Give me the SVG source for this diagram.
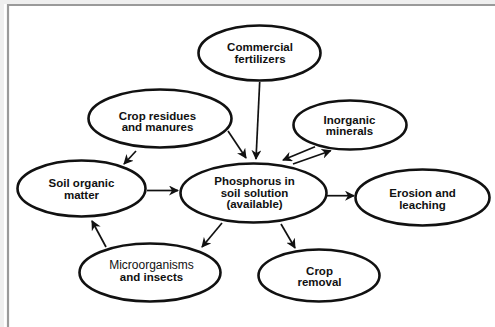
<svg xmlns="http://www.w3.org/2000/svg" width="495" height="327" viewBox="0 0 495 327">
<defs>
<marker id="ah" viewBox="0 0 10 10" refX="9" refY="5" markerWidth="10" markerHeight="10" markerUnits="userSpaceOnUse" orient="auto">
<path d="M0,0 L10,5 L0,10 L3,5 Z" fill="#111"/>
</marker>
<style>
.n ellipse{fill:#fff;stroke:#111;stroke-width:2.6}
.n text{font-family:"Liberation Sans",Arial,sans-serif;font-size:11.5px;font-weight:bold;fill:#111;text-anchor:middle}
.n text.r{font-weight:normal;font-size:12px}
#edges line{stroke:#111;stroke-width:1.7;marker-end:url(#ah)}
</style>
</defs>
<rect width="495" height="327" fill="#efefef"/>
<rect x="4" y="4" width="491" height="323" fill="#fff"/>
<line x1="7" y1="5" x2="495" y2="5" stroke="#9a9a9a" stroke-width="2"/>
<line x1="8" y1="4" x2="8" y2="327" stroke="#9a9a9a" stroke-width="2.2"/>
<g id="edges">
<line x1="259.7" y1="82" x2="256" y2="159"/>
<line x1="228" y1="131" x2="246" y2="158"/>
<line x1="136" y1="151" x2="124" y2="164"/>
<line x1="147" y1="190.5" x2="178" y2="190.5"/>
<line x1="327" y1="195.7" x2="354" y2="195.7"/>
<line x1="222" y1="223" x2="202" y2="247"/>
<line x1="281" y1="224" x2="295" y2="248"/>
<line x1="106" y1="247" x2="92" y2="221"/>
<line x1="315" y1="146.7" x2="283" y2="160"/>
<line x1="293" y1="164" x2="330.7" y2="150.7"/>
</g>
<g id="commercial" class="n"><ellipse cx="259.5" cy="53" rx="61" ry="27.5"/><text x="260" y="51">Commercial</text><text x="260" y="63">fertilizers</text></g>
<g id="crop-residues" class="n"><ellipse cx="160" cy="118.5" rx="71.5" ry="29"/><text x="157.5" y="120">Crop residues</text><text x="157.5" y="131">and manures</text></g>
<g id="inorganic" class="n"><ellipse cx="350" cy="125" rx="56.5" ry="24.5"/><text x="349.5" y="124">Inorganic</text><text x="349.5" y="135">minerals</text></g>
<g id="soil-organic" class="n"><ellipse cx="81.5" cy="188.5" rx="64" ry="28"/><text x="81.5" y="187">Soil organic</text><text x="81.5" y="199">matter</text></g>
<g id="phosphorus" class="n"><ellipse cx="253.5" cy="193" rx="73" ry="29.5"/><text x="254.5" y="185">Phosphorus in</text><text x="254.5" y="197">soil solution</text><text x="254.5" y="208">(available)</text></g>
<g id="erosion" class="n"><ellipse cx="422.5" cy="197.5" rx="67" ry="28"/><text x="422.5" y="197">Erosion and</text><text x="422.5" y="209">leaching</text></g>
<g id="microorganisms" class="n"><ellipse cx="150" cy="272.5" rx="70.5" ry="29"/><text class="r" x="151.5" y="269">Microorganisms</text><text x="151.5" y="281">and insects</text></g>
<g id="crop-removal" class="n"><ellipse cx="319" cy="275.5" rx="60.5" ry="26"/><text x="319.5" y="275">Crop</text><text x="319.5" y="286">removal</text></g>
</svg>
